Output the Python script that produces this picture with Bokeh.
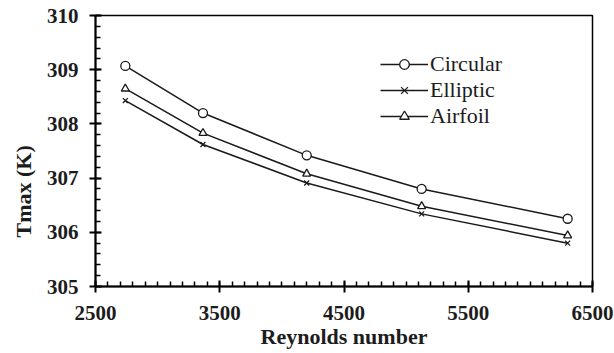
from bokeh.embed import file_html
from bokeh.models import FixedTicker, Legend, LegendItem, Range1d, Title
from bokeh.plotting import figure
from bokeh.resources import INLINE

# Maximum temperature vs Reynolds number for three tube cross-sections
reynolds = [2740, 3365, 4200, 5125, 6300]
circular = [309.07, 308.20, 307.42, 306.80, 306.25]
elliptic = [308.43, 307.62, 306.91, 306.34, 305.80]
airfoil = [308.65, 307.83, 307.08, 306.48, 305.94]

x_ticks = [2500, 3500, 4500, 5500, 6500]
y_ticks = [305, 306, 307, 308, 309, 310]

FONT = "Liberation Serif"
INK = "#1c1c1c"

p = figure(
    width=614, height=353,
    x_range=Range1d(2500, 6500), y_range=Range1d(305, 310),
    output_backend="svg", toolbar_location=None,
    min_border_left=95, min_border_right=22,
    min_border_top=15, min_border_bottom=67,
)
p.background_fill_color = "white"
p.border_fill_color = "white"
p.outline_line_color = "black"
p.outline_line_width = 1.5
p.xgrid.visible = False
p.ygrid.visible = False

# axes
p.xaxis.ticker = FixedTicker(ticks=x_ticks,
                             minor_ticks=list(range(2500, 6501, 100)))
p.yaxis.ticker = FixedTicker(ticks=y_ticks,
                             minor_ticks=[305 + 0.2 * i for i in range(26)])
p.yaxis.major_label_overrides = {t: str(t) for t in y_ticks}
for ax in (p.xaxis[0], p.yaxis[0]):
    ax.axis_line_width = 2
    ax.axis_line_color = "black"
    ax.major_tick_in = 6
    ax.major_tick_out = 6
    ax.major_tick_line_width = 2
    ax.minor_tick_in = 5
    ax.minor_tick_out = 0
    ax.minor_tick_line_width = 1.5
    ax.major_label_text_font = FONT
    ax.major_label_text_font_style = "bold"
    ax.major_label_text_font_size = "21px"
    ax.major_label_text_color = INK
    ax.axis_label_text_font = FONT
    ax.axis_label_text_font_style = "bold"
    ax.axis_label_text_font_size = "22px"
    ax.axis_label_text_color = INK

p.xaxis.major_label_standoff = 13
p.yaxis.major_label_standoff = 11
p.xaxis.axis_label = "Reynolds number"
p.xaxis.axis_label_standoff = 1

# vertical y label as a side title, anchored near the lower part of the axis
ylabel = Title(
    text="Tmax (K)", align="left", offset=49,
    text_font=FONT, text_font_style="bold", text_font_size="22px",
    text_color=INK,
)
if "standoff" in Title.properties():
    ylabel.standoff = 16
p.add_layout(ylabel, "left")

# series
lc = "#1a1a1a"
l_c = p.line(reynolds, circular, line_color=lc, line_width=1.5)
s_c = p.scatter(reynolds, circular, marker="circle", size=9,
                fill_color="white", line_color=lc, line_width=1.3)
l_e = p.line(reynolds, elliptic, line_color=lc, line_width=1.5)
s_e = p.scatter(reynolds, elliptic, marker="x", size=7,
                line_color=lc, line_width=1.3)
l_a = p.line(reynolds, airfoil, line_color=lc, line_width=1.5)
s_a = p.scatter(reynolds, airfoil, marker="triangle", size=8,
                fill_color="white", line_color=lc, line_width=1.3)

legend = Legend(
    items=[
        LegendItem(label="Circular", renderers=[l_c, s_c]),
        LegendItem(label="Elliptic", renderers=[l_e, s_e]),
        LegendItem(label="Airfoil", renderers=[l_a, s_a]),
    ],
    location=(285, 157),
    padding=0, margin=0, spacing=-2,
    glyph_width=48, glyph_height=24, label_height=24,
    label_standoff=2,
    label_text_font=FONT, label_text_font_size="22px",
    label_text_color=INK,
    border_line_alpha=0, background_fill_alpha=0,
)
p.add_layout(legend)

open("out.html", "w").write(file_html(p, INLINE))
